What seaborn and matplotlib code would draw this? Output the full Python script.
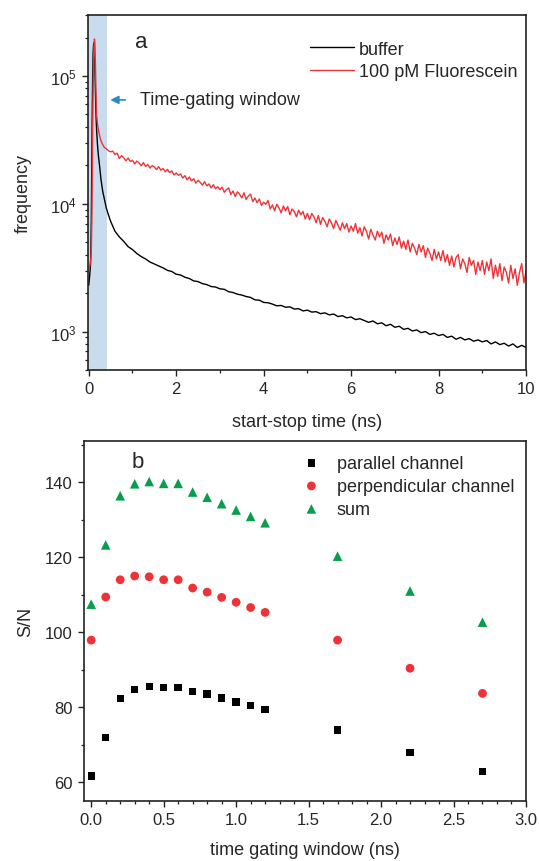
import numpy as np
import pandas as pd
import matplotlib
matplotlib.use("Agg")
import matplotlib.pyplot as plt
import seaborn as sns
from matplotlib.ticker import MultipleLocator, LogLocator, NullFormatter

sns.set_theme(style="ticks")
plt.rcParams['font.family'] = ['Liberation Sans', 'DejaVu Sans']
plt.rcParams['mathtext.fontset'] = 'custom'
plt.rcParams['mathtext.rm'] = 'Liberation Sans'
plt.rcParams['mathtext.default'] = 'regular'

# ---- panel a : start-stop histograms ----
t_rise = [0.00, 0.02, 0.04, 0.05, 0.06, 0.07, 0.08, 0.09, 0.10, 0.11, 0.12, 0.13, 0.14,
          0.15, 0.16, 0.17, 0.18, 0.20, 0.22, 0.25, 0.28, 0.32, 0.36, 0.40, 0.45, 0.50]
buffer_rise = [2300, 2700, 3300, 4500, 8000, 20000, 50000, 100000, 150000, 175000, 182000,
               165000, 120000, 85000, 60000, 46000, 38000, 29000, 24000, 19500, 15500,
               12500, 10800, 9300, 8200, 7300]
fluo_rise = [3100, 3200, 3500, 3800, 4500, 7000, 15000, 40000, 80000, 130000, 170000,
             195000, 185000, 140000, 95000, 65000, 50000, 42000, 38000, 34000, 31000,
             29000, 27500, 27000, 26000, 25500]

t_buffer_tail = np.round(np.linspace(0.6, 10.0, 95), 2)
buffer_tail = [6100, 5500, 5080, 4620, 4380, 4080, 3860, 3700, 3500, 3380,
               3260, 3150, 3010, 2950, 2810, 2770, 2660, 2600, 2490, 2460,
               2370, 2330, 2250, 2230, 2160, 2140, 2050, 2020, 1960, 1930,
               1880, 1850, 1770, 1760, 1690, 1680, 1640, 1590, 1600, 1550,
               1560, 1500, 1510, 1450, 1470, 1420, 1430, 1380, 1400, 1350,
               1370, 1310, 1330, 1280, 1300, 1240, 1260, 1220, 1180, 1210,
               1150, 1170, 1110, 1140, 1080, 1100, 1040, 1060, 1010, 1030,
               980, 1000, 950, 970, 930, 950, 900, 920, 870, 900,
               860, 880, 840, 860, 830, 850, 800, 830, 790, 810,
               770, 800, 750, 780, 750]

t_fluo_tail = np.round(np.linspace(0.55, 10.0, 190), 2)
fluo_tail = [25800, 24300, 24900, 22600, 23800, 22900, 21700, 22800, 21400, 21900,
             20500, 21600, 20900, 19800, 21000, 19600, 20300, 19000, 19900, 19400,
             18500, 19500, 18300, 18900, 17800, 18600, 17500, 18100, 16800, 17400,
             16700, 17100, 15900, 16600, 15400, 16200, 15100, 15700, 14500, 15300,
             14700, 14000, 14900, 13800, 14300, 13300, 14100, 13100, 13600, 12900,
             13500, 12300, 12900, 13300, 11800, 12600, 11400, 12400, 11900, 11100,
             12200, 10800, 11500, 11900, 10400, 11100, 10200, 10900, 9700, 10300,
             9900, 10600, 9100, 9800, 8800, 9900, 9300, 8500, 9600, 8800,
             9500, 8200, 9100, 8700, 7900, 8900, 8200, 8700, 7600, 8400,
             7500, 8400, 7900, 7100, 8100, 6900, 7800, 7300, 6600, 7600,
             7100, 6400, 7400, 6800, 6200, 7100, 6400, 7000, 6000, 6700,
             6100, 7000, 5900, 6500, 5600, 6600, 6100, 5300, 6300, 5700,
             5200, 6100, 5500, 6000, 4900, 5700, 5200, 5800, 4700, 5400,
             4800, 5500, 4500, 5100, 4400, 5200, 4200, 4900, 4500, 4000,
             4800, 4200, 4700, 3800, 4500, 4100, 3600, 4400, 3700, 4200,
             3600, 4300, 3500, 4000, 3300, 3900, 3200, 3800, 4000, 3100,
             3700, 3400, 2900, 3800, 3300, 3600, 2800, 3500, 3000, 3600,
             2800, 3500, 3000, 3700, 2600, 3300, 2700, 3400, 2500, 3200,
             2900, 2400, 3300, 2600, 3100, 2300, 2900, 3400, 2400, 3000]

# ---- panel b : S/N vs gating window ----
gate = [0.0, 0.1, 0.2, 0.3, 0.4, 0.5, 0.6, 0.7, 0.8, 0.9, 1.0, 1.1, 1.2, 1.7, 2.2, 2.7]
sn_parallel = [61.7, 71.9, 82.3, 84.8, 85.5, 85.3, 85.3, 84.2, 83.5, 82.5, 81.4, 80.4,
               79.4, 73.9, 68.0, 62.9]
sn_perpendicular = [97.9, 109.4, 114.0, 115.0, 114.8, 114.0, 114.0, 111.8, 110.7, 109.3,
                    108.0, 106.6, 105.3, 97.9, 90.4, 83.7]
sn_sum = [107.5, 123.3, 136.4, 139.6, 140.2, 139.7, 139.7, 137.4, 136.0, 134.3, 132.6,
          130.9, 129.2, 120.3, 111.0, 102.7]

RED = '#ee3338'
GREEN = '#0a9e4c'
BAND = '#c8dcee'
ARROW = '#2b86c8'

hist = pd.concat([
    pd.DataFrame({'time': list(t_rise) + list(t_buffer_tail),
                  'counts': buffer_rise + buffer_tail, 'sample': 'buffer'}),
    pd.DataFrame({'time': list(t_rise) + list(t_fluo_tail),
                  'counts': fluo_rise + fluo_tail, 'sample': '100 pM Fluorescein'}),
])

sn = pd.concat([
    pd.DataFrame({'gate': gate, 'sn': sn_parallel, 'channel': 'parallel channel'}),
    pd.DataFrame({'gate': gate, 'sn': sn_perpendicular, 'channel': 'perpendicular channel'}),
    pd.DataFrame({'gate': gate, 'sn': sn_sum, 'channel': 'sum'}),
])

fig = plt.figure(figsize=(5.39, 8.62), dpi=100)
ax1 = fig.add_axes([0.163, 0.5696, 0.813, 0.4118])
ax2 = fig.add_axes([0.1558, 0.0696, 0.820, 0.4176])

# panel a
ax1.axvspan(-0.02, 0.42, color=BAND, lw=0, zorder=0)
sns.lineplot(data=hist, x='time', y='counts', hue='sample',
             palette={'buffer': 'black', '100 pM Fluorescein': RED},
             estimator=None, sort=False, lw=1.0, ax=ax1)
ax1.set_yscale('log')
ax1.set_xlim(-0.02, 10)
ax1.set_ylim(500, 3e5)
ax1.xaxis.set_major_locator(MultipleLocator(2))
ax1.xaxis.set_minor_locator(MultipleLocator(1))
ax1.yaxis.set_major_locator(LogLocator(base=10, numticks=10))
ax1.yaxis.set_minor_locator(LogLocator(base=10, subs=np.arange(2, 10), numticks=20))
ax1.yaxis.set_minor_formatter(NullFormatter())
ax1.set_xlabel('start-stop time (ns)', fontsize=13, labelpad=12)
ax1.set_ylabel('frequency', fontsize=13, labelpad=13)
h, l = ax1.get_legend_handles_labels()
ax1.legend(h, l, loc='upper left', bbox_to_anchor=(0.508, 0.928), frameon=False,
           fontsize=13, handlelength=2.4, handletextpad=0.3, labelspacing=0.3,
           borderaxespad=0, borderpad=0)
ax1.text(1.05, 1.85e5, 'a', fontsize=16, va='center', ha='left')
ax1.annotate('', xy=(0.43, 6.5e4), xytext=(0.9, 6.5e4),
             arrowprops=dict(arrowstyle='-|>', color=ARROW, lw=1.2, mutation_scale=12))
ax1.text(1.18, 6.5e4, 'Time-gating window', fontsize=13, va='center', ha='left')

# panel b
for name, mk, size, col in [('parallel channel', 's', 28, 'black'),
                            ('perpendicular channel', 'o', 40, RED),
                            ('sum', '^', 48, GREEN)]:
    sns.scatterplot(data=sn[sn['channel'] == name], x='gate', y='sn', marker=mk, s=size,
                    color=col, edgecolor='none', label=name, ax=ax2)
ax2.set_xlim(-0.05, 3.0)
ax2.set_ylim(55, 151)
ax2.xaxis.set_major_locator(MultipleLocator(0.5))
ax2.xaxis.set_minor_locator(MultipleLocator(0.1))
ax2.yaxis.set_major_locator(MultipleLocator(20))
ax2.yaxis.set_minor_locator(MultipleLocator(10))
ax2.set_xlabel('time gating window (ns)', fontsize=13, labelpad=10)
ax2.set_ylabel('S/N', fontsize=13, labelpad=8)
ax2.legend(loc='upper left', bbox_to_anchor=(0.49, 0.962), frameon=False, fontsize=13,
           handlelength=1.2, handletextpad=0.8, labelspacing=0.33,
           borderaxespad=0, borderpad=0)
ax2.text(0.28, 145.6, 'b', fontsize=16, va='center', ha='left')

for ax in (ax1, ax2):
    for sp in ax.spines.values():
        sp.set_visible(True)
        sp.set_color('#222222')
        sp.set_linewidth(1.2)
    ax.tick_params(which='major', direction='out', length=4.5, width=1.0,
                   labelsize=12, color='#222222', top=False, right=False)
    ax.tick_params(which='minor', direction='out', length=2.5, width=0.9,
                   color='#222222', top=False, right=False)
    ax.tick_params(axis='y', which='both', left=True)
    ax.tick_params(axis='x', which='both', bottom=True)

fig.savefig('out.png', dpi=100)
